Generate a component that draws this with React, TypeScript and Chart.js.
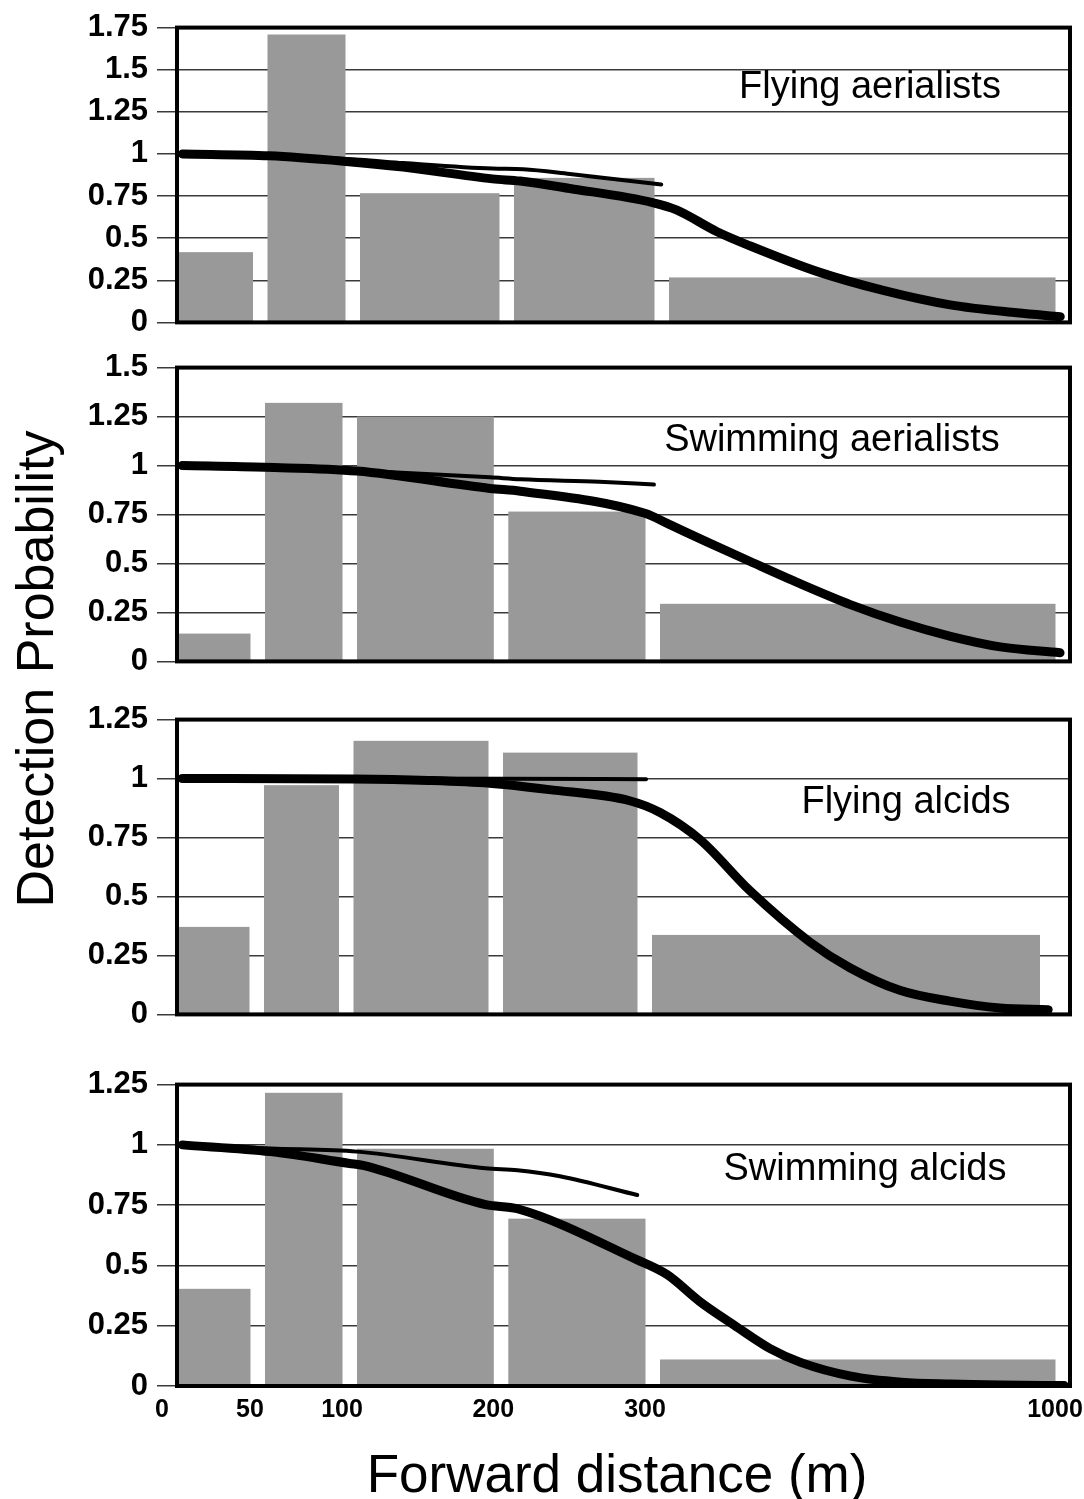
import React, { useEffect, useRef } from 'react';
import { Chart, registerables, LinearScale } from 'chart.js';

Chart.register(...registerables);

// ---------- data ----------
const binEdges = [0, 50, 100, 200, 300, 1000];
const xTickValues = [0, 50, 100, 200, 300, 1000];
const panelTitles = ['Flying aerialists', 'Swimming aerialists', 'Flying alcids', 'Swimming alcids'];

// Flying aerialists
const yTicksFlyAer = [0, 0.25, 0.5, 0.75, 1, 1.25, 1.5, 1.75];
const barsFlyAer = [0.417, 1.709, 0.767, 0.858, 0.267];
const fitDistFlyAer = [3, 51, 91, 128, 186, 204, 236, 290, 313, 383, 441, 558, 674, 791, 907, 983];
const fitProbFlyAer = [1.0, 0.989, 0.957, 0.922, 0.852, 0.839, 0.795, 0.71, 0.668, 0.54, 0.455, 0.303, 0.19, 0.104, 0.057, 0.034];
const altDistFlyAer = [3, 51, 100, 128, 186, 206, 236, 295];
const altProbFlyAer = [1.0, 0.99, 0.965, 0.946, 0.913, 0.909, 0.881, 0.818];

// Swimming aerialists
const yTicksSwimAer = [0, 0.25, 0.5, 0.75, 1, 1.25, 1.5];
const barsSwimAer = [0.142, 1.32, 1.25, 0.765, 0.294];
const fitDistSwimAer = [3, 50, 100, 188, 208, 290, 314, 380, 454, 539, 625, 710, 796, 881, 983];
const fitProbSwimAer = [1.0, 0.991, 0.972, 0.883, 0.869, 0.756, 0.702, 0.61, 0.51, 0.397, 0.29, 0.201, 0.128, 0.074, 0.044];
const altDistSwimAer = [3, 50, 100, 188, 208, 260, 296];
const altProbSwimAer = [1.0, 0.993, 0.975, 0.94, 0.93, 0.917, 0.903];

// Flying alcids
const yTicksFlyAlc = [0, 0.25, 0.5, 0.75, 1, 1.25];
const barsFlyAlc = [0.371, 0.972, 1.16, 1.11, 0.337];
const fitDistFlyAlc = [3, 100, 150, 191, 231, 285, 314, 384, 470, 575, 644, 731, 818, 905, 989];
const fitProbFlyAlc = [1.0, 0.998, 0.992, 0.98, 0.953, 0.906, 0.856, 0.74, 0.525, 0.306, 0.198, 0.102, 0.056, 0.027, 0.02];
const altDistFlyAlc = [3, 100, 200, 296];
const altProbFlyAlc = [1.0, 1.0, 0.999, 0.997];

// Swimming alcids
const yTicksSwimAlc = [0, 0.25, 0.5, 0.75, 1, 1.25];
const barsSwimAlc = [0.403, 1.216, 0.984, 0.694, 0.11];
const fitDistSwimAlc = [3, 53, 96, 104, 185, 206, 285, 312, 368, 428, 488, 540, 626, 712, 797, 883, 990];
const fitProbSwimAlc = [1.0, 0.972, 0.923, 0.915, 0.752, 0.735, 0.523, 0.462, 0.35, 0.25, 0.155, 0.098, 0.041, 0.016, 0.008, 0.004, 0.002];
const altDistSwimAlc = [3, 53, 100, 185, 206, 234, 285];
const altProbSwimAlc = [1.0, 0.985, 0.972, 0.903, 0.895, 0.87, 0.792];

// ---------- styling / layout ----------
const BAR_COLOR = '#999999';
const BAR_GAP = 14.5;
const GRID_COLOR = '#3a3a3a';
const PLOT_LEFT = 177;
const PLOT_RIGHT = 1070;
const PAGE_W = 1084;
const SANS = "'Liberation Sans', Arial, sans-serif";

const toPts = (xs: number[], ys: number[]) => xs.map((x, i) => ({ x, y: ys[i] }));

// custom piecewise-linear distance scale
class PiecewiseScale extends LinearScale {
  static id = 'piecewise';
  static defaults = {};
  getPixelForValue(value: any) {
    if (value === null || value === undefined || isNaN(value)) return NaN;
    const fr: number[] = (this.options as any).fractions;
    if (!Array.isArray(fr)) return super.getPixelForValue(value);
    const br = binEdges;
    let i = 0;
    while (i < br.length - 2 && value > br[i + 1]) i++;
    const t = (value - br[i]) / (br[i + 1] - br[i]);
    return this.getPixelForDecimal(fr[i] + t * (fr[i + 1] - fr[i]));
  }
  getValueForPixel(pixel: number) {
    const fr: number[] = (this.options as any).fractions;
    const dec = this.getDecimalForPixel(pixel);
    const br = binEdges;
    let i = 0;
    while (i < fr.length - 2 && dec > fr[i + 1]) i++;
    const t = (dec - fr[i]) / (fr[i + 1] - fr[i]);
    return br[i] + t * (br[i + 1] - br[i]);
  }
}
Chart.register(PiecewiseScale as any);

const PANELS = [
  { title: panelTitles[0], bars: barsFlyAer, fit: toPts(fitDistFlyAer, fitProbFlyAer), alt: toPts(altDistFlyAer, altProbFlyAer), yTicks: yTicksFlyAer,
    plotTop: 23, plotBottom: 330, fractions: [0, 0.10134, 0.20493, 0.37738, 0.55095, 1], labelX: 870, labelY: 98, showX: false },
  { title: panelTitles[1], bars: barsSwimAer, fit: toPts(fitDistSwimAer, fitProbSwimAer), alt: toPts(altDistSwimAer, altProbSwimAer), yTicks: yTicksSwimAer,
    plotTop: 363, plotBottom: 669, fractions: [0, 0.09854, 0.20157, 0.371, 0.54087, 1], labelX: 832, labelY: 451, showX: false },
  { title: panelTitles[2], bars: barsFlyAlc, fit: toPts(fitDistFlyAlc, fitProbFlyAlc), alt: toPts(altDistFlyAlc, altProbFlyAlc), yTicks: yTicksFlyAlc,
    plotTop: 715, plotBottom: 1022, fractions: [0, 0.09742, 0.19765, 0.36506, 0.53191, 0.98264], labelX: 906, labelY: 813, showX: false },
  { title: panelTitles[3], bars: barsSwimAlc, fit: toPts(fitDistSwimAlc, fitProbSwimAlc), alt: toPts(altDistSwimAlc, altProbSwimAlc), yTicks: yTicksSwimAlc,
    plotTop: 1080, plotBottom: 1386, fractions: [0, 0.09854, 0.20157, 0.371, 0.54087, 1], labelX: 865, labelY: 1180, showX: true },
];

const TOP_PAD = 23;
const BOTTOM_PAD = 20;
const XAXIS_H = 45;

function Panel({ cfg }: { cfg: any }) {
  const ref = useRef<HTMLCanvasElement>(null);
  const canvasTop = cfg.plotTop - TOP_PAD;
  const height = cfg.plotBottom - canvasTop + (cfg.showX ? XAXIS_H : BOTTOM_PAD);

  useEffect(() => {
    const canvas = ref.current!;
    const histPlugin = {
      id: 'histBars',
      beforeDatasetsDraw(chart: any) {
        const { ctx, chartArea, scales } = chart;
        const xs = scales.x;
        const ys = scales.y;
        ctx.save();
        ctx.fillStyle = BAR_COLOR;
        cfg.bars.forEach((h: number, i: number) => {
          const x0 = xs.getPixelForValue(binEdges[i]);
          const x1 = xs.getPixelForValue(binEdges[i + 1]) - BAR_GAP;
          const y0 = ys.getPixelForValue(h);
          const yb = ys.getPixelForValue(0);
          ctx.fillRect(x0, y0, x1 - x0, yb - y0);
        });
        ctx.strokeStyle = '#000';
        ctx.lineWidth = 4;
        ctx.strokeRect(chartArea.left, chartArea.top, chartArea.right - chartArea.left, chartArea.bottom - chartArea.top);
        ctx.restore();
      },
      afterDatasetsDraw(chart: any) {
        const { ctx } = chart;
        ctx.save();
        ctx.fillStyle = '#000';
        ctx.font = '38px ' + SANS;
        ctx.textAlign = 'center';
        ctx.textBaseline = 'alphabetic';
        ctx.fillText(cfg.title, cfg.labelX, cfg.labelY - canvasTop);
        ctx.restore();
      },
    };

    const chart = new Chart(canvas, {
      type: 'line',
      data: {
        datasets: [
          { label: 'fit', data: cfg.fit, borderColor: '#000', borderWidth: 9, pointRadius: 0,
            cubicInterpolationMode: 'monotone', borderCapStyle: 'round', borderJoinStyle: 'round', fill: false },
          { label: 'alt', data: cfg.alt, borderColor: '#000', borderWidth: 4, pointRadius: 0,
            cubicInterpolationMode: 'monotone', borderCapStyle: 'round', borderJoinStyle: 'round', fill: false },
        ],
      } as any,
      options: {
        responsive: false,
        animation: false,
        events: [],
        layout: { padding: { left: 0, right: PAGE_W - PLOT_RIGHT, top: TOP_PAD, bottom: cfg.showX ? 0 : BOTTOM_PAD } },
        plugins: { legend: { display: false }, tooltip: { enabled: false } },
        scales: {
          x: {
            type: 'piecewise',
            fractions: cfg.fractions,
            min: 0,
            max: 1000,
            display: cfg.showX,
            grid: { display: false, drawTicks: false },
            border: { display: false },
            afterBuildTicks: (s: any) => { s.ticks = xTickValues.map((v) => ({ value: v })); },
            afterFit: (s: any) => { s.height = cfg.showX ? XAXIS_H : 0; s.paddingLeft = 0; s.paddingRight = 0; },
            ticks: {
              autoSkip: false, maxRotation: 0, minRotation: 0, padding: 9, labelOffset: -15,
              color: '#000', font: { family: SANS, size: 25, weight: 'bold' },
              callback: (v: any) => String(v),
            },
          },
          y: {
            type: 'linear',
            min: 0,
            max: cfg.yTicks[cfg.yTicks.length - 1],
            afterBuildTicks: (s: any) => { s.ticks = cfg.yTicks.map((v: number) => ({ value: v })); },
            afterFit: (s: any) => { s.width = PLOT_LEFT; },
            grid: { color: GRID_COLOR, lineWidth: 1.5, tickLength: 20, drawTicks: true },
            border: { display: false },
            ticks: {
              autoSkip: false, padding: 9, color: '#000',
              font: { family: SANS, size: 31, weight: 'bold' },
              callback: (v: any) => String(v),
            },
          },
        } as any,
      },
      plugins: [histPlugin],
    } as any);
    return () => chart.destroy();
  }, []);

  return (
    <canvas
      ref={ref}
      width={PAGE_W}
      height={height}
      style={{ position: 'absolute', left: 0, top: canvasTop, width: PAGE_W, height }}
    />
  );
}

export default function App() {
  return (
    <div style={{ position: 'absolute', left: 0, top: 0, width: 1084, height: 1499, background: '#fff', overflow: 'hidden' }}>
      {PANELS.map((p, i) => (
        <Panel key={i} cfg={p} />
      ))}
      <div
        style={{
          position: 'absolute', left: 35 - 300, top: 669 - 30, width: 600, height: 60, lineHeight: '60px',
          textAlign: 'center', transform: 'rotate(-90deg)', fontFamily: SANS,
          fontSize: 52, color: '#000', whiteSpace: 'nowrap',
        }}
      >
        Detection Probability
      </div>
      <div
        style={{
          position: 'absolute', left: 317, top: 1444, width: 600, height: 60, lineHeight: '60px',
          textAlign: 'center', fontFamily: SANS, fontSize: 53, color: '#000',
          whiteSpace: 'nowrap',
        }}
      >
        Forward distance (m)
      </div>
    </div>
  );
}
